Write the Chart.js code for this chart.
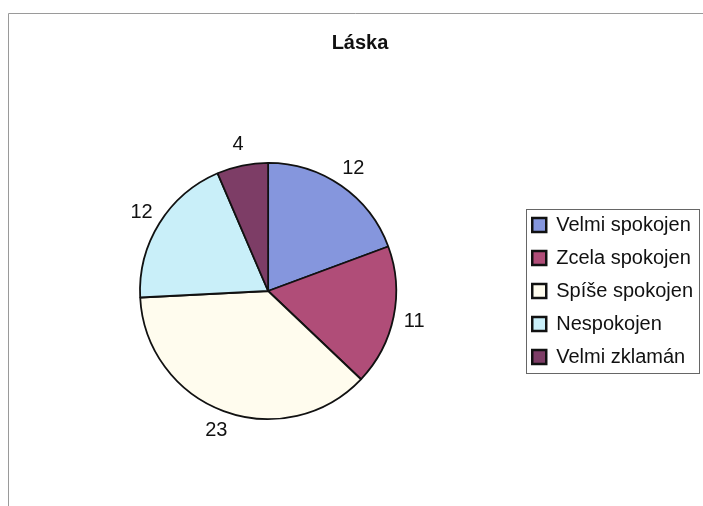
<!DOCTYPE html>
<html>
<head>
<meta charset="utf-8">
<title>Láska</title>
<script src="https://cdn.jsdelivr.net/npm/chart.js@4"></script>
<style>
  html, body { margin: 0; padding: 0; background: #fff; }
  #wrap { position: relative; width: 703px; height: 506px; }
</style>
</head>
<body>
<div id="wrap"><canvas id="chart" width="703" height="506"></canvas></div>
<script>
// Data
const categories = ["Velmi spokojen", "Zcela spokojen", "Spíše spokojen", "Nespokojen", "Velmi zklamán"];
const counts = [12, 11, 23, 12, 4];
const sliceColors = ["#8596dd", "#b04d78", "#fffcee", "#c9eff9", "#7d3d66"];
const chartTitle = "Láska";

const FONT = "'Liberation Sans', Arial, sans-serif";

// Outer frame lines (left and top edge)
const framePlugin = {
    id: "frame",
    beforeDraw(chart) {
        const ctx = chart.ctx;
        ctx.save();
        ctx.strokeStyle = "#9a9a9a";
        ctx.lineWidth = 1;
        ctx.beginPath();
        ctx.moveTo(8.5, 506);
        ctx.lineTo(8.5, 13.5);
        ctx.lineTo(703, 13.5);
        ctx.stroke();
        ctx.restore();
    }
};

// Value labels outside each slice
const valueLabels = {
    id: "valueLabels",
    afterDatasetsDraw(chart) {
        const ctx = chart.ctx;
        const meta = chart.getDatasetMeta(0);
        ctx.save();
        ctx.font = "20px " + FONT;
        ctx.fillStyle = "#111";
        ctx.textAlign = "center";
        ctx.textBaseline = "middle";
        meta.data.forEach((arc, i) => {
            const p = arc.getProps(["x", "y", "startAngle", "endAngle", "outerRadius"], true);
            const mid = (p.startAngle + p.endAngle) / 2;
            const r = p.outerRadius + 21;
            ctx.fillText(String(counts[i]), p.x + Math.cos(mid) * r, p.y + Math.sin(mid) * r);
        });
        ctx.restore();
    }
};

// Border round the legend
const legendBox = {
    id: "legendBox",
    afterDraw(chart) {
        const boxes = chart.legend.legendHitBoxes;
        if (!boxes || !boxes.length) return;
        const first = boxes[0];
        const last = boxes[boxes.length - 1];
        const left = Math.round(first.left - 6) + 0.5;
        const top = Math.round(first.top - 6) + 0.5;
        const bottom = Math.round(last.top + last.height + 6) + 0.5;
        const ctx = chart.ctx;
        ctx.save();
        ctx.strokeStyle = "#666";
        ctx.lineWidth = 1;
        ctx.strokeRect(left, top, 699.5 - left, bottom - top);
        ctx.restore();
    }
};

new Chart(document.getElementById("chart"), {
    type: "pie",
    data: {
        labels: categories,
        datasets: [{
            data: counts,
            backgroundColor: sliceColors,
            borderColor: "#111",
            borderWidth: 1.8
        }]
    },
    options: {
        responsive: false,
        animation: false,
        layout: {
            padding: { top: 0, bottom: 86, left: 17, right: 0 }
        },
        plugins: {
            title: {
                display: true,
                text: chartTitle,
                color: "#111",
                font: { family: FONT, size: 20, weight: "bold", lineHeight: 1.2 },
                padding: { top: 31, bottom: 107 }
            },
            legend: {
                position: "right",
                fullSize: false,
                labels: {
                    color: "#111",
                    font: { family: FONT, size: 20 },
                    boxWidth: 14,
                    boxHeight: 14,
                    padding: 13,
                    generateLabels(chart) {
                        const items = Chart.overrides.pie.plugins.legend.labels.generateLabels(chart);
                        items.forEach(it => { it.lineWidth = 2.5; it.strokeStyle = "#111"; });
                        return items;
                    }
                }
            },
            tooltip: { enabled: false }
        }
    },
    plugins: [framePlugin, valueLabels, legendBox]
});
</script>
</body>
</html>
